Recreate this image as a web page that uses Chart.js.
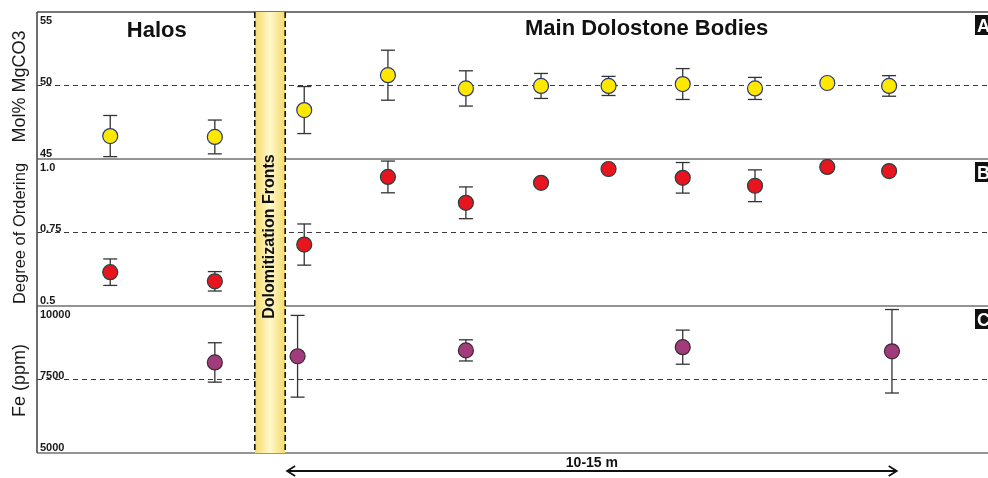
<!DOCTYPE html>
<html>
<head>
<meta charset="utf-8">
<script src="https://cdn.jsdelivr.net/npm/chart.js@4.4.1/dist/chart.umd.min.js"></script>
<style>
  body { margin: 0; background: #fff; }
  #wrap { width: 988px; height: 478px; position: relative; }
</style>
</head>
<body>
<div id="wrap"><canvas id="chart"></canvas></div>
<script>
// Sample positions along the section (0-100 across the plot)
const samplePos = [7.7, 18.7, 28.1, 36.9, 45.1, 53.0, 60.1, 67.9, 75.5, 83.1, 89.6];
const molPct = [46.56, 46.5, 48.33, 50.7, 49.8, 49.97, 49.97, 50.1, 49.8, 50.17, 49.97];
const molErr = [1.4, 1.15, 1.6, 1.7, 1.2, 0.85, 0.65, 1.05, 0.75, 0, 0.7];
const ordering = [0.615, 0.584, 0.709, 0.939, 0.851, 0.919, 0.966, 0.936, 0.909, 0.973, 0.959];
const orderErr = [0.045, 0.033, 0.07, 0.054, 0.054, 0, 0, 0.052, 0.054, 0, 0];
const fePos = [18.7, 27.4, 45.1, 67.9, 89.9];
const fePpm = [8080, 8290, 8490, 8600, 8460];
const feErr = [670, 1390, 360, 580, 1420];

// Panels, top to bottom
const panelIds = ["yA", "yB", "yC"];
const panelMin = [45, 0.5, 5000];
const panelMax = [55, 1.0, 10000];
const panelRef = [50, 0.75, 7500];
const panelTicks = [["55", "50", "45"], ["1.0", "0.75", "0.5"], ["10000", "7500", "5000"]];
const panelTitles = ["Mol% MgCO3", "Degree of Ordering", "Fe (ppm)"];
const panelTitleSize = [18, 16.5, 18];
const panelLetters = ["A", "B", "C"];

const bandX = [22.9, 26.1];
const arrowX = [26.3, 90.4];
const halosX = 12.6;
const mainX = 64.1;

function toPoints(xs, ys, errs) {
  return xs.map((x, i) => ({ x: x, y: ys[i], err: errs[i] }));
}

function line(ctx, x1, y1, x2, y2) {
  ctx.beginPath();
  ctx.moveTo(x1, y1);
  ctx.lineTo(x2, y2);
  ctx.stroke();
}

const panelsPlugin = {
  id: "panels",
  beforeDatasetsDraw(chart) {
    const { ctx, chartArea, scales } = chart;
    const { left, right, top, bottom } = chartArea;
    ctx.save();

    // dashed reference lines
    ctx.strokeStyle = "#3a3a3a";
    ctx.lineWidth = 1.2;
    ctx.setLineDash([5, 4]);
    panelIds.forEach((id, i) => {
      const y = scales[id].getPixelForValue(panelRef[i]);
      line(ctx, left, y, right, y);
    });

    // frame and panel separators
    ctx.setLineDash([]);
    ctx.strokeStyle = "#707070";
    ctx.lineWidth = 1.6;
    panelIds.forEach((id, i) => {
      const y = scales[id].getPixelForValue(panelMin[i]);
      line(ctx, left, y, right, y);
    });
    ctx.strokeStyle = "#4a4a4a";
    line(ctx, left, top, right, top);
    line(ctx, left, top, left, bottom);

    // dolomitization band
    const bx0 = scales.x.getPixelForValue(bandX[0]);
    const bx1 = scales.x.getPixelForValue(bandX[1]);
    const grad = ctx.createLinearGradient(bx0, 0, bx1, 0);
    grad.addColorStop(0, "#f6da6a");
    grad.addColorStop(0.5, "#fff8cc");
    grad.addColorStop(1, "#f6da6a");
    ctx.fillStyle = grad;
    ctx.fillRect(bx0, top, bx1 - bx0, bottom - top);
    ctx.strokeStyle = "#111";
    ctx.lineWidth = 1.6;
    ctx.setLineDash([6, 3]);
    line(ctx, bx0, top, bx0, bottom);
    line(ctx, bx1, top, bx1, bottom);
    ctx.setLineDash([]);

    // error bars
    ctx.strokeStyle = "#333";
    ctx.lineWidth = 1.3;
    chart.data.datasets.forEach((ds) => {
      const ys = scales[ds.yAxisID];
      ds.data.forEach((p) => {
        if (!p.err) return;
        const x = scales.x.getPixelForValue(p.x);
        const y1 = ys.getPixelForValue(p.y + p.err);
        const y2 = ys.getPixelForValue(p.y - p.err);
        line(ctx, x, y1, x, y2);
        line(ctx, x - 7, y1, x + 7, y1);
        line(ctx, x - 7, y2, x + 7, y2);
      });
    });
    ctx.restore();
  },
  afterDraw(chart) {
    const { ctx, chartArea, scales } = chart;
    const { left, right, top, bottom } = chartArea;
    ctx.save();
    ctx.fillStyle = "#1a1a1a";

    // tick labels inside the frame
    ctx.font = "bold 11px 'Liberation Sans', Arial, sans-serif";
    ctx.textAlign = "left";
    panelIds.forEach((id, i) => {
      const s = scales[id];
      ctx.textBaseline = "top";
      ctx.fillText(panelTicks[i][0], left + 3, s.getPixelForValue(panelMax[i]) + 3);
      ctx.textBaseline = "alphabetic";
      ctx.fillText(panelTicks[i][1], left + 3, s.getPixelForValue(panelRef[i]) - 1);
      ctx.fillText(panelTicks[i][2], left + 3, s.getPixelForValue(panelMin[i]) - 2);
    });

    // axis titles
    ctx.textAlign = "center";
    ctx.textBaseline = "middle";
    panelIds.forEach((id, i) => {
      const s = scales[id];
      const yc = (s.top + s.bottom) / 2;
      ctx.save();
      ctx.translate(20, yc + 1);
      ctx.rotate(-Math.PI / 2);
      ctx.font = panelTitleSize[i] + "px 'Liberation Sans', Arial, sans-serif";
      ctx.fillText(panelTitles[i], 0, 0);
      ctx.restore();
    });

    // panel letters
    panelIds.forEach((id, i) => {
      const s = scales[id];
      ctx.fillStyle = "#111";
      ctx.fillRect(975, s.top + 3, 20, 20);
      ctx.fillStyle = "#fff";
      ctx.font = "bold 18px 'Liberation Sans', Arial, sans-serif";
      ctx.textAlign = "left";
      ctx.textBaseline = "alphabetic";
      ctx.fillText(panelLetters[i], 977, s.top + 20);
    });

    // headings
    ctx.fillStyle = "#111";
    ctx.textAlign = "center";
    ctx.font = "bold 22px 'Liberation Sans', Arial, sans-serif";
    ctx.fillText("Halos", scales.x.getPixelForValue(halosX), top + 25);
    ctx.fillText("Main Dolostone Bodies", scales.x.getPixelForValue(mainX), top + 23);

    // band label
    const bxc = scales.x.getPixelForValue((bandX[0] + bandX[1]) / 2);
    ctx.save();
    ctx.translate(bxc, (top + bottom) / 2 + 4);
    ctx.rotate(-Math.PI / 2);
    ctx.font = "bold 16px 'Liberation Sans', Arial, sans-serif";
    ctx.textBaseline = "middle";
    ctx.fillText("Dolomitization Fronts", 0, 0);
    ctx.restore();

    // distance arrow
    const ax0 = scales.x.getPixelForValue(arrowX[0]);
    const ax1 = scales.x.getPixelForValue(arrowX[1]);
    const ay = bottom + 18;
    ctx.strokeStyle = "#111";
    ctx.lineWidth = 1.8;
    line(ctx, ax0, ay, ax1, ay);
    ctx.beginPath();
    ctx.moveTo(ax0 + 8, ay - 5);
    ctx.lineTo(ax0, ay);
    ctx.lineTo(ax0 + 8, ay + 5);
    ctx.moveTo(ax1 - 8, ay - 5);
    ctx.lineTo(ax1, ay);
    ctx.lineTo(ax1 - 8, ay + 5);
    ctx.stroke();
    ctx.font = "bold 14px 'Liberation Sans', Arial, sans-serif";
    ctx.textBaseline = "alphabetic";
    ctx.fillText("10-15 m", (ax0 + ax1) / 2, ay - 4);

    ctx.restore();
  },
};

function panelScale(i) {
  return {
    type: "linear",
    position: "left",
    stack: "panels",
    stackWeight: 1,
    min: panelMin[i],
    max: panelMax[i],
    grid: { display: false },
    border: { display: false },
    ticks: { display: false },
    afterFit(scale) {
      scale.width = 0;
    },
  };
}

const chart = new Chart(document.getElementById("chart"), {
  type: "scatter",
  data: {
    datasets: [
      {
        label: "Mol% MgCO3",
        yAxisID: "yA",
        data: toPoints(samplePos, molPct, molErr),
        backgroundColor: "#ffe800",
        borderColor: "#2b3a78",
        borderWidth: 1.2,
        pointRadius: 7.5,
      },
      {
        label: "Degree of Ordering",
        yAxisID: "yB",
        data: toPoints(samplePos, ordering, orderErr),
        backgroundColor: "#e8141e",
        borderColor: "#1f4444",
        borderWidth: 1.2,
        pointRadius: 7.5,
      },
      {
        label: "Fe (ppm)",
        yAxisID: "yC",
        data: toPoints(fePos, fePpm, feErr),
        backgroundColor: "#a23b7c",
        borderColor: "#3a2a35",
        borderWidth: 1.2,
        pointRadius: 7.5,
      },
    ],
  },
  options: {
    responsive: true,
    maintainAspectRatio: false,
    animation: false,
    layout: { autoPadding: false, padding: { left: 37, top: 12, right: 0, bottom: 25 } },
    plugins: { legend: { display: false }, tooltip: { enabled: false } },
    scales: {
      x: { type: "linear", min: 0, max: 100, display: false },
      yC: panelScale(2),
      yB: panelScale(1),
      yA: panelScale(0),
    },
  },
  plugins: [panelsPlugin],
});
</script>
</body>
</html>
